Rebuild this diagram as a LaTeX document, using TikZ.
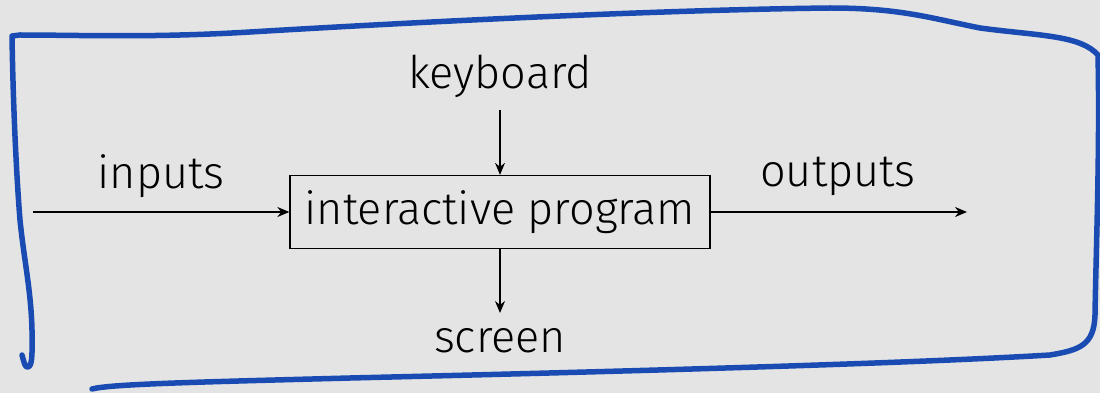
\documentclass[tikz,border=0pt]{standalone}
\usepackage{fontspec}
\setmainfont{Fira Sans}[UprightFont=* Light]
\usepackage{xcolor}
\usetikzlibrary{arrows.meta}
\definecolor{bgray}{HTML}{E4E4E4}
\definecolor{penblue}{HTML}{1A4BB3}

\begin{document}
\begin{tikzpicture}[x=1pt,y=-1pt,font=\fontsize{45}{54}\selectfont,
    flow/.style={-{Stealth[length=12pt,width=10pt]},line width=1.3pt},
    progbox/.style={draw,line width=1.3pt,minimum width=420pt,minimum height=73pt,inner sep=0pt}]
    \fill[bgray] (0,0) rectangle (1100,393);
    \useasboundingbox (0,0) rectangle (1100,393);
    % hand drawn frame
    \draw[penblue,line width=5.5pt,line cap=round,line join=round]
      (22,355) .. controls (24,362) and (25,368) .. (28,367)
      .. controls (33,366) and (32,350) .. (32,330)
      .. controls (31,290) and (24,260) .. (20,220)
      .. controls (16,170) and (13,100) .. (12,36)
      -- (20,35) .. controls (80,35) and (150,38) .. (250,32)
      .. controls (400,23) and (650,10) .. (830,8)
      .. controls (900,8) and (930,18) .. (980,28)
      .. controls (1040,36) and (1080,35) .. (1098,55)
      .. controls (1100,150) and (1096,250) .. (1095,315)
      .. controls (1094,345) and (1080,350) .. (1050,355)
      .. controls (900,364) and (600,372) .. (350,378)
      .. controls (200,382) and (110,384) .. (92,389);
    \node[progbox] (prog) at (500,212) {interactive program};
    \node (kbd) at (500,76) {keyboard};
    \node (scr) at (500,341) {screen};
    \node (inp) at (161,176) {inputs};
    \node (outp) at (838,176) {outputs};
    \coordinate (kbdend) at (500,110);
    \coordinate (scrend) at (500,313);
    \coordinate (inend) at (33,212);
    \coordinate (outend) at (967,212);
    \draw[flow] (kbdend) -- (prog.north);
    \draw[flow] (prog.south) -- (scrend);
    \draw[flow] (inend) -- (prog.west);
    \draw[flow] (prog.east) -- (outend);
\end{tikzpicture}
\end{document}
